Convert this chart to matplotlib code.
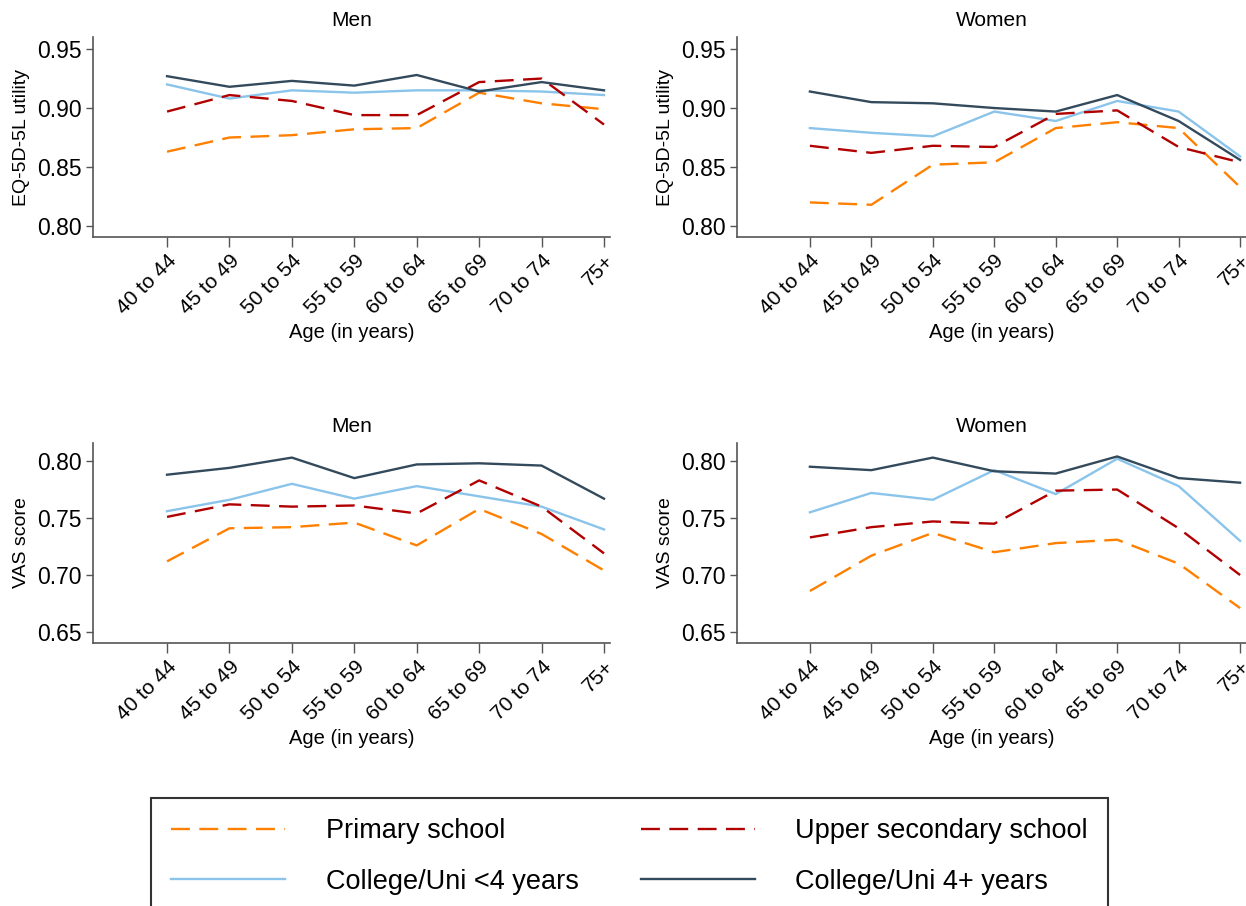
import numpy as np
import matplotlib
matplotlib.use('Agg')
import matplotlib.pyplot as plt

plt.rcParams['font.family'] = ['Liberation Sans', 'DejaVu Sans']

# age groups
ages = ['40 to 44', '45 to 49', '50 to 54', '55 to 59', '60 to 64', '65 to 69', '70 to 74', '75+']
groups = ['Primary school', 'College/Uni <4 years', 'Upper secondary school', 'College/Uni 4+ years']

# EQ-5D-5L utility, men
eq_men_prim = [0.863, 0.875, 0.877, 0.882, 0.883, 0.913, 0.904, 0.899]
eq_men_upper = [0.897, 0.911, 0.906, 0.894, 0.894, 0.922, 0.925, 0.886]
eq_men_col = [0.920, 0.908, 0.915, 0.913, 0.915, 0.915, 0.914, 0.911]
eq_men_uni = [0.927, 0.918, 0.923, 0.919, 0.928, 0.914, 0.922, 0.915]

# EQ-5D-5L utility, women
eq_wom_prim = [0.820, 0.818, 0.852, 0.854, 0.883, 0.888, 0.883, 0.833]
eq_wom_upper = [0.868, 0.862, 0.868, 0.867, 0.895, 0.898, 0.867, 0.854]
eq_wom_col = [0.883, 0.879, 0.876, 0.897, 0.889, 0.906, 0.897, 0.859]
eq_wom_uni = [0.914, 0.905, 0.904, 0.900, 0.897, 0.911, 0.889, 0.856]

# VAS score, men
vas_men_prim = [0.712, 0.741, 0.742, 0.746, 0.726, 0.758, 0.736, 0.704]
vas_men_upper = [0.751, 0.762, 0.760, 0.761, 0.754, 0.783, 0.760, 0.719]
vas_men_col = [0.756, 0.766, 0.780, 0.767, 0.778, 0.769, 0.760, 0.740]
vas_men_uni = [0.788, 0.794, 0.803, 0.785, 0.797, 0.798, 0.796, 0.767]

# VAS score, women
vas_wom_prim = [0.686, 0.717, 0.737, 0.720, 0.728, 0.731, 0.710, 0.671]
vas_wom_upper = [0.733, 0.742, 0.747, 0.745, 0.774, 0.775, 0.741, 0.700]
vas_wom_col = [0.755, 0.772, 0.766, 0.792, 0.771, 0.802, 0.778, 0.730]
vas_wom_uni = [0.795, 0.792, 0.803, 0.791, 0.789, 0.804, 0.785, 0.781]

colors = ['#ff8000', '#8ac4ea', '#b00000', '#334a5c']
styles = [(0, (8, 4)), '-', (0, (8, 4)), '-']

W, H = 1246, 906
fig = plt.figure(figsize=(W / 100, H / 100), dpi=100)

def box(l, t, r, b):
    return [l / W, 1 - b / H, (r - l) / W, (b - t) / H]

eq_lim, eq_ticks = (0.7907, 0.9602), [0.80, 0.85, 0.90, 0.95]
vas_lim, vas_ticks = (0.6404, 0.8158), [0.65, 0.70, 0.75, 0.80]

panels = [
    (box(93, 37, 610, 237), 'Men', 'EQ-5D-5L utility',
     [eq_men_prim, eq_men_col, eq_men_upper, eq_men_uni], eq_lim, eq_ticks),
    (box(737, 37, 1246, 237), 'Women', 'EQ-5D-5L utility',
     [eq_wom_prim, eq_wom_col, eq_wom_upper, eq_wom_uni], eq_lim, eq_ticks),
    (box(93, 443, 610, 643), 'Men', 'VAS score',
     [vas_men_prim, vas_men_col, vas_men_upper, vas_men_uni], vas_lim, vas_ticks),
    (box(737, 443, 1246, 643), 'Women', 'VAS score',
     [vas_wom_prim, vas_wom_col, vas_wom_upper, vas_wom_uni], vas_lim, vas_ticks),
]

x = np.arange(len(ages))
handles = []
for pos, title, ylab, series, ylim, yticks in panels:
    ax = fig.add_axes(pos)
    hs = []
    for s, c, ls in zip(series, colors, styles):
        h, = ax.plot(x, s, color=c, linestyle=ls, linewidth=1.7, clip_on=False)
        hs.append(h)
    handles = hs
    ax.set_xlim(-1.186, 7.096)
    ax.set_ylim(ylim)
    ax.set_yticks(yticks)
    ax.set_yticklabels(['%.2f' % v for v in yticks])
    ax.set_xticks(x)
    ax.set_xticklabels(ages, rotation=45, ha='right', rotation_mode='anchor')
    ax.tick_params(axis='y', labelsize=16.5, length=5, width=1, pad=3, color='#555555')
    ax.tick_params(axis='x', labelsize=15, length=7, width=1, pad=3, color='#555555')
    for sp in ['top', 'right']:
        ax.spines[sp].set_visible(False)
    for sp in ['left', 'bottom']:
        ax.spines[sp].set_color('#555555')
        ax.spines[sp].set_linewidth(1.2)
    ax.set_title(title, fontsize=15, pad=8)
    ax.set_ylabel(ylab, fontsize=14, labelpad=5)
    ax.set_xlabel('Age (in years)', fontsize=14.5, labelpad=4)

leg = fig.legend(handles, groups, loc='upper left', ncol=2,
                 bbox_to_anchor=(151 / W, 1 - 798 / H), borderaxespad=0,
                 fontsize=19.5, frameon=True, fancybox=False, edgecolor='black',
                 handlelength=4.2, handletextpad=1.5, columnspacing=2.3,
                 labelspacing=0.9, borderpad=0.75)
leg.get_frame().set_linewidth(1.5)

fig.savefig('out.png', dpi=100)
